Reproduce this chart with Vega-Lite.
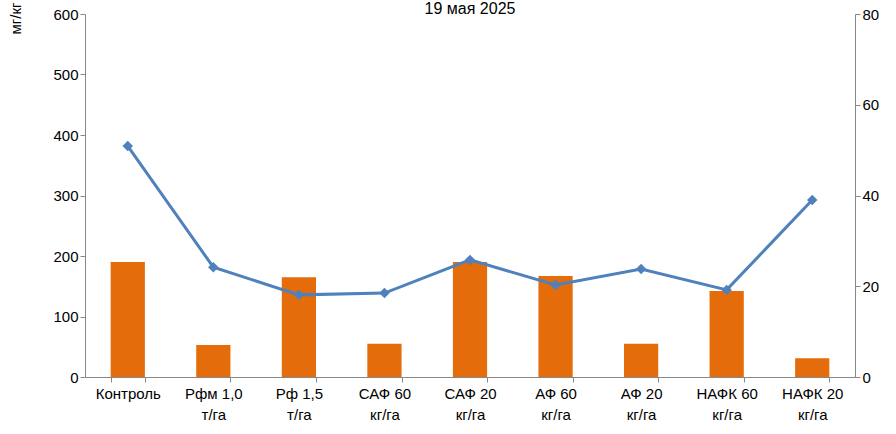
{
  "$schema": "https://vega.github.io/schema/vega-lite/v6.json",
  "width": 770,
  "height": 363,
  "autosize": "none",
  "padding": {"left": 85, "top": 14, "right": 41, "bottom": 57},
  "background": "white",
  "title": {"text": "19 мая 2025", "font": "Liberation Sans", "fontSize": 16, "fontWeight": "normal", "color": "black", "offset": -4, "dy": 11},
  "config": {"view": {"stroke": null}, "axis": {"grid": false, "domainColor": "#888", "tickColor": "#888", "labelColor": "black", "labelFont": "Liberation Sans", "labelFontSize": 15}},
  "data": {"values": [
    {"v": "Контроль", "bar": 190, "line": 50.9},
    {"v": "Рфм 1,0|т/га", "bar": 53, "line": 24.2},
    {"v": "Рф 1,5|т/га", "bar": 165, "line": 18.1},
    {"v": "САФ 60|кг/га", "bar": 55, "line": 18.5},
    {"v": "САФ 20|кг/га", "bar": 190, "line": 25.8},
    {"v": "АФ 60|кг/га", "bar": 167, "line": 20.3},
    {"v": "АФ 20|кг/га", "bar": 55, "line": 23.8},
    {"v": "НАФК 60|кг/га", "bar": 142, "line": 19.2},
    {"v": "НАФК 20|кг/га", "bar": 31, "line": 39}
  ]},
  "encoding": {
    "x": {"field": "v", "type": "nominal", "sort": null, "title": null,
      "scale": {"paddingInner": 0.6, "paddingOuter": 0.3},
      "axis": {"labelAngle": 0, "labelExpr": "split(datum.label, '|')", "tickBand": "extent", "labelPadding": 4, "labelLineHeight": 21}}
  },
  "layer": [
    {
      "mark": {"type": "bar", "color": "#E46C0A"},
      "encoding": {"y": {"field": "bar", "type": "quantitative", "scale": {"domain": [0, 600]},
        "axis": {"values": [0, 100, 200, 300, 400, 500, 600], "title": "мг/кг", "titleFont": "Liberation Sans", "titleFontSize": 15, "titleFontWeight": "normal", "titleColor": "black", "titleX": -62, "titleY": -12, "titleAlign": "right", "titleBaseline": "bottom", "titleAngle": -90}}}
    },
    {
      "mark": {"type": "line", "color": "#4F81BD", "strokeWidth": 3, "point": {"shape": "diamond", "size": 110, "color": "#4F81BD", "filled": true}},
      "encoding": {"y": {"field": "line", "type": "quantitative", "scale": {"domain": [0, 80]},
        "axis": {"orient": "right", "values": [0, 20, 40, 60, 80], "title": null}}}
    }
  ],
  "resolve": {"scale": {"y": "independent"}}
}
